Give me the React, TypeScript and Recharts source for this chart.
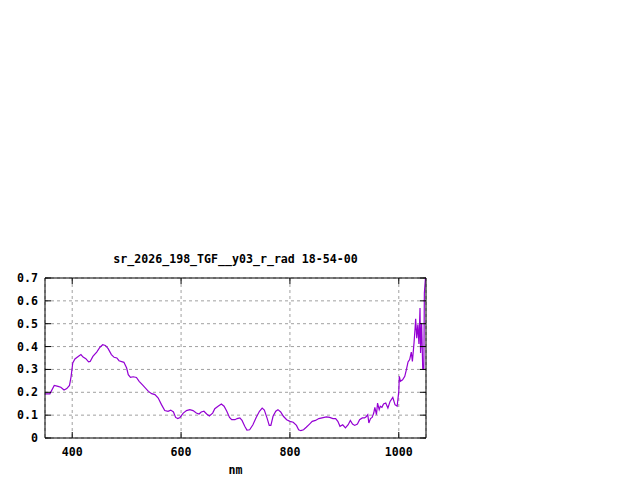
import React from 'react'
import { CartesianGrid, Line, LineChart, XAxis, YAxis } from 'recharts'

const TITLE = 'sr_2026_198_TGF__y03_r_rad 18-54-00'
const X_TICKS = [400, 600, 800, 1000]
const Y_TICKS = [0, 0.1, 0.2, 0.3, 0.4, 0.5, 0.6, 0.7]

// wavelength (nm)
const NM = [
  350, 359, 367, 374, 379, 385, 390, 395, 398, 401, 405, 411, 416, 420, 425, 430, 433, 438, 445, 451,
  456, 461, 466, 472, 477, 482, 486, 495, 500, 503, 507, 512, 518, 523, 530, 540, 546, 552, 558, 564,
  570, 576, 581, 586, 590, 594, 598, 604, 610, 616, 622, 628, 633, 637, 642, 647, 652, 658, 662, 668,
  674, 679, 684, 689, 693, 699, 703, 708, 712, 717, 721, 726, 732, 738, 744, 749, 753, 758, 762, 765,
  769, 774, 778, 783, 788, 794, 800, 806, 812, 816, 820, 825, 830, 836, 841, 847, 853, 859, 867, 873,
  879, 884, 888, 892, 897, 902, 907, 911, 915, 919, 924, 928, 933, 937, 940, 943, 945, 948, 951, 954,
  956, 959, 961, 964, 966, 969, 972, 976, 980, 984, 989, 993, 997, 1000, 1001, 1003, 1007, 1011, 1014, 1017,
  1020, 1023, 1025, 1028, 1030, 1031, 1033, 1035, 1037, 1039, 1040, 1042, 1044, 1046, 1047, 1049, 1050,
]

// radiance
const RAD = [
  0.193, 0.193, 0.23, 0.226, 0.222, 0.21, 0.216, 0.23, 0.27, 0.328, 0.346, 0.357, 0.365, 0.354, 0.347, 0.333, 0.335, 0.357, 0.376, 0.397,
  0.408, 0.405, 0.391, 0.365, 0.353, 0.35, 0.338, 0.331, 0.306, 0.277, 0.265, 0.268, 0.265, 0.248, 0.23, 0.204, 0.194, 0.19, 0.175, 0.146,
  0.12, 0.117, 0.122, 0.114, 0.09, 0.085, 0.09, 0.109, 0.12, 0.124, 0.12, 0.109, 0.105, 0.114, 0.117, 0.105, 0.096, 0.109, 0.128, 0.139,
  0.149, 0.139, 0.117, 0.09, 0.08, 0.08, 0.085, 0.088, 0.077, 0.051, 0.035, 0.036, 0.058, 0.09, 0.117, 0.131, 0.122, 0.087, 0.055, 0.055,
  0.095, 0.117, 0.124, 0.114, 0.095, 0.08, 0.073, 0.069, 0.055, 0.036, 0.032, 0.036, 0.047, 0.061, 0.073, 0.077, 0.085, 0.088, 0.092, 0.09,
  0.085, 0.085, 0.073, 0.051, 0.058, 0.044, 0.058, 0.077, 0.061, 0.055, 0.061, 0.08, 0.088, 0.088, 0.093, 0.102, 0.066, 0.085, 0.09, 0.109,
  0.134, 0.102, 0.153, 0.124, 0.139, 0.134, 0.149, 0.153, 0.131, 0.16, 0.178, 0.146, 0.139, 0.204, 0.27, 0.248, 0.255, 0.27, 0.299, 0.333,
  0.343, 0.376, 0.335, 0.416, 0.481, 0.522, 0.437, 0.496, 0.411, 0.569, 0.372, 0.503, 0.303, 0.303, 0.634, 0.7, 0.72,
]

const data = NM.map((nm, i) => ({ nm, rad: RAD[i] }))

const FONT = '"DejaVu Sans Mono", monospace'
const TICK_LEN = 6

function XTick(props: any) {
  const { x, y, payload } = props
  return (
    <g>
      <line x1={x} y1={y} x2={x} y2={y - TICK_LEN} stroke="#000" />
      <text x={x} y={y + 18} textAnchor="middle" fontFamily={FONT} fontWeight="bold" fontSize={11.6} fill="#000">
        {payload.value}
      </text>
    </g>
  )
}

function XTopTick(props: any) {
  const { x, y } = props
  return <line x1={x} y1={y} x2={x} y2={y + TICK_LEN} stroke="#000" />
}

function YTick(props: any) {
  const { x, y, payload } = props
  const v = payload.value === 0 ? '0' : Number(payload.value).toFixed(1)
  return (
    <g>
      <line x1={x} y1={y} x2={x + TICK_LEN} y2={y} stroke="#000" />
      <text x={x - 7} y={y + 4} textAnchor="end" fontFamily={FONT} fontWeight="bold" fontSize={11.6} fill="#000">
        {v}
      </text>
    </g>
  )
}

function YRightTick(props: any) {
  const { x, y } = props
  return <line x1={x} y1={y} x2={x - TICK_LEN} y2={y} stroke="#000" />
}

export default function App() {
  return (
    <div style={{ position: 'absolute', left: 0, top: 0, width: 640, height: 480, background: '#fff' }}>
      <div
        style={{
          position: 'absolute', left: 45, width: 381, top: 252, textAlign: 'center',
          fontFamily: FONT, fontWeight: 'bold', fontSize: 11.6, color: '#000',
        }}
      >
        {TITLE}
      </div>
      <div
        style={{
          position: 'absolute', left: 45, width: 381, top: 463, textAlign: 'center',
          fontFamily: FONT, fontWeight: 'bold', fontSize: 11.6, color: '#000',
        }}
      >
        nm
      </div>
      <LineChart width={640} height={480} data={data} margin={{ top: 277, right: 213, bottom: 12, left: 5 }}>
        <CartesianGrid xAxisId="b" yAxisId="l" stroke="#a0a0a0" strokeDasharray="3 3" />
        <XAxis
          xAxisId="b" dataKey="nm" type="number" domain={[350, 1050]} ticks={X_TICKS} interval={0} allowDataOverflow
          height={30} tickSize={0} tickMargin={0} tick={<XTick />} axisLine={{ stroke: '#000' }} tickLine={false}
        />
        <XAxis
          xAxisId="t" orientation="top" dataKey="nm" type="number" domain={[350, 1050]} ticks={X_TICKS} interval={0} allowDataOverflow
          height={1} tickSize={0} tickMargin={0} tick={<XTopTick />} axisLine={{ stroke: '#000' }} tickLine={false}
        />
        <YAxis
          yAxisId="l" type="number" domain={[0, 0.7]} ticks={Y_TICKS} interval={0} allowDataOverflow
          width={40} tickSize={0} tickMargin={0} tick={<YTick />} axisLine={{ stroke: '#000' }} tickLine={false}
        />
        <YAxis
          yAxisId="r" orientation="right" type="number" domain={[0, 0.7]} ticks={Y_TICKS} interval={0} allowDataOverflow
          width={1} tickSize={0} tickMargin={0} tick={<YRightTick />} axisLine={{ stroke: '#000' }} tickLine={false}
        />
        <Line
          xAxisId="b" yAxisId="l" type="linear" dataKey="rad" stroke="#9400d3" strokeWidth={1.2}
          dot={false} isAnimationActive={false}
        />
      </LineChart>
    </div>
  )
}
